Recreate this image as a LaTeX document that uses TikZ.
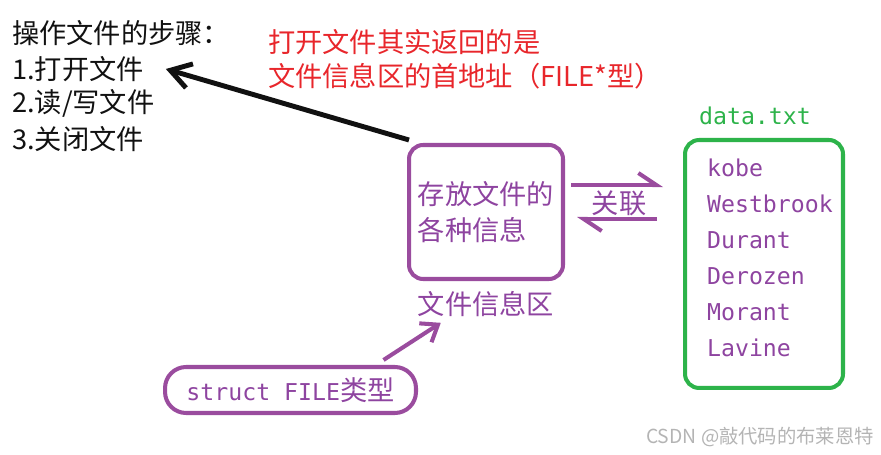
\documentclass[tikz,border=0pt]{standalone}
\usepackage{fontspec}
\usepackage{tikz}
\usetikzlibrary{arrows.meta,positioning}
\newfontfamily\zhfont{Noto Sans CJK SC}
\newfontfamily\codefont{DejaVu Sans Mono}
\definecolor{ink}{HTML}{111111}
\definecolor{notered}{HTML}{E8262B}
\definecolor{filepurple}{HTML}{9A4C9E}
\definecolor{txtpurple}{HTML}{8E44A0}
\definecolor{datgreen}{HTML}{2DB34A}
\definecolor{markgray}{HTML}{B4B4B4}
\tikzset{
  steptext/.style={anchor=west,inner sep=1pt,text=ink,
                   font={\zhfont\fontsize{15.5}{19}\selectfont}},
  notetext/.style={anchor=west,inner sep=1pt,text=notered,align=left,
                   font={\zhfont\fontsize{15.5}{19.4}\selectfont}},
  infobox/.style={draw=filepurple,line width=2.3pt,rounded corners=8pt,
                  minimum width=3.08cm,minimum height=2.68cm,align=left,
                  text=txtpurple,font={\zhfont\fontsize{15.5}{20.5}\selectfont}},
  datbox/.style={draw=datgreen,line width=2.3pt,rounded corners=8pt,
                 minimum width=3.16cm,minimum height=4.96cm},
  structbox/.style={draw=filepurple,line width=2.3pt,rounded corners=12pt,
                    minimum width=5.02cm,minimum height=0.92cm,text=txtpurple},
  purtext/.style={inner sep=1pt,text=txtpurple,
                  font={\zhfont\fontsize{15.5}{19}\selectfont}},
  nametext/.style={anchor=west,inner sep=1pt,text=txtpurple,
                   font={\codefont\fontsize{13.2}{16}\selectfont}},
  blackarr/.style={-{Straight Barb[length=4mm,width=5mm]},line width=2.8pt,
                   draw=ink},
  purharp/.style={-{Straight Barb[left,length=3.6mm,width=4.8mm]},
                  line width=2.3pt,draw=filepurple},
  purarr/.style={-{Straight Barb[length=3mm,width=4.5mm]},line width=2.3pt,
                 draw=filepurple}
}
\begin{document}
\begin{tikzpicture}[x=0.02cm,y=-0.02cm]
    \path[use as bounding box] (0,0) rectangle (881,455);
    % steps on the left
    \node[steptext] (step0) at (10,33) {操作文件的步骤：};
    \node[steptext] (step1) at (10,69) {1.打开文件};
    \node[steptext] (step2) at (10,103) {2.读/写文件};
    \node[steptext] (step3) at (10,139) {3.关闭文件};
    \node[notetext] (note) at (266,59)
      {打开文件其实返回的是\\文件信息区的首地址（FILE*型）};
    % file info area
    \node[infobox] (info) at (486,212) {存放文件的\\各种信息};
    \node[purtext] (infolbl) at (486,304) {文件信息区};
    \node[structbox] (stbox) at (290.5,390)
      {{\codefont\fontsize{13.2}{16}\selectfont struct FILE}{\zhfont\fontsize{15.5}{19}\selectfont 类型}};
    % data file
    \node[datbox] (dat) at (764,264) {};
    \node[anchor=west,inner sep=1pt,text=datgreen,
          font={\codefont\fontsize{13.2}{16}\selectfont}] (datname) at (697,116) {data.txt};
    \foreach \nm [count=\i] in {kobe,Westbrook,Durant,Derozen,Morant,Lavine}{
      \node[nametext] (nm\i) at (705,132+36*\i) {\nm};
    }
    \node[purtext] (link) at (619,203) {关联};
    % connectors
    \draw[blackarr] ([shift={(2,-3)}]info.north west) -- ([shift={(20,0)}]step1.east);
    \draw[purharp] ([shift={(6,-27)}]info.east) -- ++(92,0);
    \draw[purharp] ([shift={(-26,-45)}]dat.west) -- ++(-80,0);
    \draw[purarr] ([shift={(93,-5)}]stbox.north) -- ([shift={(25,4)}]infolbl.south west);
    \node[anchor=west,inner sep=1pt,text=markgray,
          font={\zhfont\fontsize{11}{13}\selectfont}] (mark) at (644,437)
      {CSDN @敲代码的布莱恩特};
\end{tikzpicture}
\end{document}
